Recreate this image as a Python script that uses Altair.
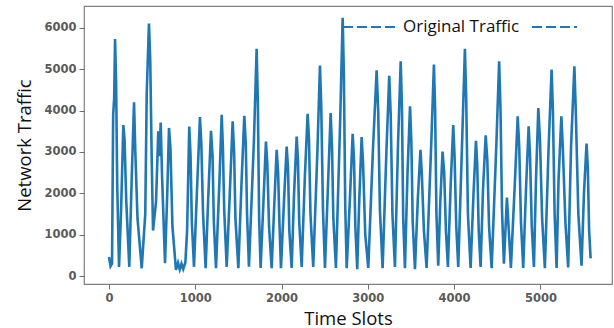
import altair as alt
import pandas as pd

# Time slot positions of key points (one cycle per line)
slots = [
    0, 18, 35, 48, 60, 70, 82, 95, 116,
    140, 166, 180, 200, 235,
    262, 290, 305, 330, 379,
    420, 437, 463, 478, 495, 510, 545, 571, 585, 599, 615, 649,
    675, 695, 712, 735, 776,
    800, 820, 840, 860, 885, 905, 930, 945, 960, 985,
    1020, 1054, 1070, 1090, 1120,
    1150, 1182, 1200, 1215, 1240,
    1280, 1306, 1320, 1335, 1364,
    1400, 1433, 1450, 1465, 1499,
    1535, 1568, 1585, 1600, 1622,
    1680, 1711, 1725, 1740, 1757,
    1790, 1819, 1835, 1855, 1885,
    1915, 1943, 1960, 1975, 1993,
    2030, 2059, 2075, 2090, 2117,
    2145, 2175, 2190, 2205, 2233,
    2270, 2302, 2318, 2335, 2367,
    2415, 2445, 2460, 2480, 2503,
    2540, 2569, 2585, 2600, 2630,
    2680, 2708, 2722, 2738, 2755,
    2795, 2824, 2840, 2855, 2877,
    2900, 2928, 2945, 2970, 3005,
    3060, 3102, 3120, 3140, 3171,
    3215, 3248, 3265, 3285, 3314,
    3350, 3381, 3395, 3410, 3430,
    3460, 3489, 3505, 3520, 3546,
    3580, 3610, 3625, 3650, 3681,
    3735, 3766, 3780, 3795, 3816,
    3840, 3866, 3885, 3905, 3928,
    3960, 3990, 4005, 4025, 4048,
    4095, 4125, 4140, 4160, 4191,
    4225, 4253, 4268, 4285, 4307,
    4335, 4366, 4385, 4405, 4435,
    4490, 4522, 4538, 4555, 4577, 4612, 4658,
    4705, 4737, 4755, 4775, 4801,
    4835, 4864, 4880, 4900, 4925,
    4950, 4976, 4995, 5020, 5052,
    5095, 5130, 5145, 5165, 5188,
    5210, 5243, 5260, 5290, 5322,
    5355, 5394, 5410, 5440, 5477,
    5505, 5535, 5550, 5565, 5582,
]

# Network traffic values at those slots (same layout)
traffic = [
    460, 240, 300, 3900, 4300, 5730, 4700, 2200, 220,
    1600, 3650, 3300, 1800, 225,
    2300, 4200, 3000, 1400, 190,
    1500, 4420, 6100, 5200, 2800, 1100, 1800, 3500, 2900, 3710, 2400, 310,
    2000, 3580, 3100, 1200, 150,
    320, 160, 300, 170, 330, 1100, 3615, 2900, 1300, 225,
    2100, 3840, 3200, 1500, 190,
    1900, 3510, 2900, 1300, 190,
    2300, 3900, 3100, 1600, 225,
    2000, 3740, 3000, 1400, 190,
    2200, 3870, 3200, 1500, 225,
    3300, 5490, 4200, 1400, 200,
    1800, 3250, 2700, 1200, 190,
    1700, 3050, 2500, 1300, 190,
    1900, 3130, 2600, 1100, 200,
    2000, 3370, 2800, 1300, 220,
    2400, 3920, 3300, 1500, 220,
    3000, 5085, 4100, 1600, 200,
    2300, 3940, 3100, 1400, 200,
    3800, 6240, 4900, 1700, 190,
    2000, 3440, 2800, 1200, 170,
    1800, 3360, 2700, 1000, 200,
    3100, 4970, 4000, 1600, 190,
    3000, 4840, 3900, 1500, 220,
    3200, 5190, 4100, 1400, 190,
    2500, 4100, 3200, 1300, 170,
    1900, 3050, 2500, 1100, 200,
    3200, 5110, 4000, 1500, 250,
    1800, 3010, 2500, 1100, 220,
    2200, 3650, 2900, 1200, 220,
    3400, 5490, 4300, 1500, 200,
    2000, 3270, 2700, 1100, 220,
    2100, 3400, 2800, 1200, 190,
    3200, 5190, 4000, 1600, 300, 1900, 200,
    2300, 3860, 3100, 1300, 200,
    2200, 3620, 2900, 1200, 220,
    2400, 4060, 3300, 1400, 190,
    3100, 4990, 4000, 1500, 200,
    2300, 3860, 3100, 1300, 210,
    3100, 5070, 4000, 1500, 250,
    2000, 3200, 2600, 1100, 430,
]

x_ticks = [0, 1000, 2000, 3000, 4000, 5000]
y_ticks = [0, 1000, 2000, 3000, 4000, 5000, 6000]
legend_label = "Original Traffic"

df = pd.DataFrame({"slot": slots[:len(traffic)], "traffic": traffic[:len(slots)]})
one = pd.DataFrame({"k": [0]})

BLUE = "#1f77b4"

line = alt.Chart(df).mark_line(color=BLUE, strokeWidth=2.6).encode(
    x=alt.X("slot:Q", scale=alt.Scale(domain=[-290, 5830], nice=False, zero=False),
            axis=alt.Axis(values=x_ticks, format="d", title="Time Slots", titleY=40,
                          titleBaseline="alphabetic")),
    y=alt.Y("traffic:Q", scale=alt.Scale(domain=[-190, 6525], nice=False, zero=False),
            axis=alt.Axis(values=y_ticks, format="d", title="Network Traffic", titleX=-54,
                          titleBaseline="alphabetic")),
)

dash_left = alt.Chart(one).mark_rule(color=BLUE, strokeWidth=2.2, strokeDash=[10, 4]).encode(
    x=alt.value(259), x2=alt.value(314), y=alt.value(21))
dash_right = alt.Chart(one).mark_rule(color=BLUE, strokeWidth=2.2, strokeDash=[10, 4]).encode(
    x=alt.value(448), x2=alt.value(493), y=alt.value(21))
label = alt.Chart(one).mark_text(align="left", baseline="middle", font="Open Sans",
                                 fontSize=17, color="#111").encode(
    x=alt.value(319), y=alt.value(21), text=alt.value(legend_label))

chart = alt.layer(line, dash_left, dash_right, label).properties(
    width=528, height=278,
    autosize=alt.AutoSizeParams(type="none"),
    padding={"left": 84, "top": 6, "right": 2, "bottom": 44},
).configure_view(
    stroke="#7f7f7f", strokeWidth=1.2
).configure_axis(
    domain=False, grid=False, tickColor="#6e6e6e", tickSize=5, tickWidth=1,
    labelColor="#5a5a5a", labelFont="DejaVu Sans", labelFontWeight="bold",
    labelFontSize=11.5, labelPadding=3,
    titleFont="Open Sans", titleFontSize=18.5, titleFontWeight="normal", titleColor="#111",
)

chart.save("out.html", embed_options={"renderer": "svg", "actions": False})
